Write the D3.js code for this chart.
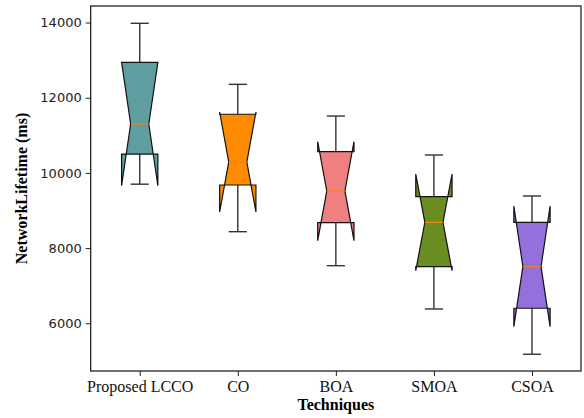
<!DOCTYPE html>
<html>
<head>
<meta charset="utf-8">
<script src="https://cdn.jsdelivr.net/npm/d3@7"></script>
<style>
  body { margin: 0; background: #fff; }
  .tick text { fill: #222; }
</style>
</head>
<body>
<script>
// values
var techniques = ['Proposed LCCO', 'CO', 'BOA', 'SMOA', 'CSOA'];
var whiskerLow  = [9700, 8436, 7532, 6380, 5176];
var q1          = [10500, 9678, 8676, 7505, 6399];
var median      = [11300, 10290, 9519, 8686, 7505];
var q3          = [12940, 11560, 10564, 9367, 8686];
var whiskerHigh = [13980, 12356, 11513, 10476, 9386];
var notchLow    = [9660, 8960, 8197, 7400, 5910];
var notchHigh   = [12940, 11620, 10830, 9971, 9120];
var boxColors   = ['#5f9ea0', '#ff8c00', '#f08080', '#6b8e23', '#9370db'];
var yTicks      = [6000, 8000, 10000, 12000, 14000];
var yLimits     = [4730, 14440];

var data = techniques.map(function(t, i) {
  return {
    name: t, pos: i + 1,
    lo: whiskerLow[i], q1: q1[i], med: median[i], q3: q3[i], hi: whiskerHigh[i],
    nlo: notchLow[i], nhi: notchHigh[i], color: boxColors[i]
  };
});

var svg = d3.select('body').append('svg')
  .attr('width', 584)
  .attr('height', 418);

// plot area ("top" is taken by window.top, so use a margin object)
var plot = { left: 90.7, right: 581, top: 6, bottom: 371 };

var x = d3.scaleLinear().domain([0.5, 5.5]).range([plot.left, plot.right]);
var y = d3.scaleLinear().domain(yLimits).range([plot.bottom, plot.top]);

var boxW = 0.37;

// y axis
svg.append('g')
  .attr('transform', 'translate(' + plot.left + ',0)')
  .call(d3.axisLeft(y).tickValues(yTicks).tickSize(5).tickPadding(4).tickFormat(d3.format('d')))
  .call(function(g) { g.select('.domain').remove(); })
  .selectAll('text')
  .style('font-family', 'DejaVu Sans')
  .style('font-size', '13px');

// x axis
svg.append('g')
  .attr('transform', 'translate(0,' + plot.bottom + ')')
  .call(d3.axisBottom(x).tickValues(data.map(function(d) { return d.pos; }))
    .tickFormat(function(d) { return techniques[d - 1]; }).tickSize(5).tickPadding(5))
  .call(function(g) { g.select('.domain').remove(); })
  .selectAll('text')
  .style('font-family', 'Liberation Serif')
  .style('font-size', '16px')
  .style('fill', '#111');

svg.selectAll('.tick line').attr('stroke', '#222');

var boxes = svg.selectAll('.box')
  .data(data)
  .enter()
  .append('g')
  .attr('class', 'box');

// whiskers (under the box)
boxes.append('line')
  .attr('x1', function(d) { return x(d.pos); })
  .attr('x2', function(d) { return x(d.pos); })
  .attr('y1', function(d) { return y(d.q1); })
  .attr('y2', function(d) { return y(d.lo); })
  .attr('stroke', '#333').attr('stroke-width', 1.4);
boxes.append('line')
  .attr('x1', function(d) { return x(d.pos); })
  .attr('x2', function(d) { return x(d.pos); })
  .attr('y1', function(d) { return y(d.q3); })
  .attr('y2', function(d) { return y(d.hi); })
  .attr('stroke', '#333').attr('stroke-width', 1.4);

// notched box, same outline as matplotlib
boxes.append('path')
  .attr('d', function(d) {
    var l = d.pos - boxW / 2, r = d.pos + boxW / 2;
    var nl = d.pos - boxW / 4, nr = d.pos + boxW / 4;
    var pts = [
      [l, d.q1], [r, d.q1], [r, d.nlo], [nr, d.med], [r, d.nhi], [r, d.q3],
      [l, d.q3], [l, d.nhi], [nl, d.med], [l, d.nlo], [l, d.q1]
    ];
    return d3.line().x(function(p) { return x(p[0]); }).y(function(p) { return y(p[1]); })(pts) + 'Z';
  })
  .attr('fill', function(d) { return d.color; })
  .attr('stroke', '#111')
  .attr('stroke-width', 1.2)
  .attr('stroke-linejoin', 'miter');

// caps
['lo', 'hi'].forEach(function(k) {
  boxes.append('line')
    .attr('x1', function(d) { return x(d.pos - boxW / 4); })
    .attr('x2', function(d) { return x(d.pos + boxW / 4); })
    .attr('y1', function(d) { return y(d[k]); })
    .attr('y2', function(d) { return y(d[k]); })
    .attr('stroke', '#333').attr('stroke-width', 1.4);
});

// medians
boxes.append('line')
  .attr('x1', function(d) { return x(d.pos - boxW / 4); })
  .attr('x2', function(d) { return x(d.pos + boxW / 4); })
  .attr('y1', function(d) { return y(d.med); })
  .attr('y2', function(d) { return y(d.med); })
  .attr('stroke', '#ff7f0e').attr('stroke-width', 1.2);

// frame
svg.append('rect')
  .attr('x', plot.left).attr('y', plot.top)
  .attr('width', plot.right - plot.left).attr('height', plot.bottom - plot.top)
  .attr('fill', 'none').attr('stroke', '#111').attr('stroke-width', 1.2);

svg.append('text')
  .attr('x', (plot.left + plot.right) / 2)
  .attr('y', 410)
  .attr('text-anchor', 'middle')
  .style('font-family', 'Liberation Serif')
  .style('font-weight', 'bold')
  .style('font-size', '16px')
  .text('Techniques');

svg.append('text')
  .attr('transform', 'translate(27,' + (plot.bottom + plot.top) / 2 + ') rotate(-90)')
  .attr('text-anchor', 'middle')
  .style('font-family', 'Liberation Serif')
  .style('font-weight', 'bold')
  .style('font-size', '16px')
  .text('NetworkLifetime (ms)');
</script>
</body>
</html>
